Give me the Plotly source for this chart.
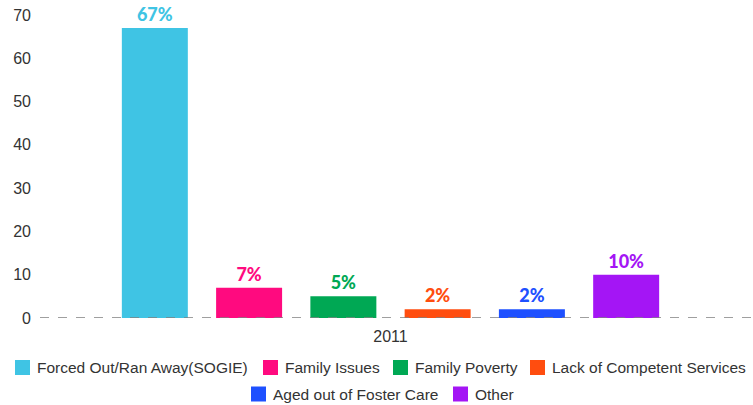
import plotly.graph_objects as go

years = ["2011"]
series = [
    "Forced Out/Ran Away(SOGIE)",
    "Family Issues",
    "Family Poverty",
    "Lack of Competent Services",
    "Aged out of Foster Care",
    "Other",
]
values = [67, 7, 5, 2, 2, 10]
colors = ["#3FC4E4", "#FF0A7F", "#00A854", "#FF4D0F", "#1E50FF", "#A415F5"]

W, H = 753, 405
ML, MR, MT, MB = 37, 9, 15, 87
PW, PH = W - ML - MR, H - MT - MB


def px_x(x):
    """pixel column -> paper x"""
    return (x - ML) / PW


def px_y(y):
    """pixel row -> paper y"""
    return (H - MB - y) / PH


fig = go.Figure()
for name, val, col in zip(series, values, colors):
    fig.add_trace(go.Bar(
        x=years, y=[val], name=name, showlegend=False,
        marker=dict(color=col, line=dict(width=0)),
        text=[f"{val}%"], textposition="outside", cliponaxis=False,
        textfont=dict(family="Lato", size=18, color=col, weight=900),
    ))

# dashed baseline at zero, running to the right edge
fig.add_shape(type="line", xref="paper", yref="y", x0=px_x(40), x1=px_x(753), y0=0, y1=0,
              line=dict(color="#808080", width=1.5, dash="dash"))

# two-row legend below the axis: (left edge of swatch, row centre) in pixels
legend_slots = [(15, 367.5), (263, 367.5), (393, 367.5), (530, 367.5),
                (251, 394), (453, 394)]
SW = 15
for name, col, (lx, cy) in zip(series, colors, legend_slots):
    fig.add_shape(type="rect", xref="paper", yref="paper",
                  x0=px_x(lx), x1=px_x(lx + SW), y0=px_y(cy + SW / 2), y1=px_y(cy - SW / 2),
                  fillcolor=col, line=dict(width=0))
    fig.add_annotation(xref="paper", yref="paper", x=px_x(lx + SW + 5), y=px_y(cy),
                       xanchor="left", yanchor="middle", showarrow=False, text=name,
                       font=dict(size=15.5, color="#333333"))

fig.update_layout(
    width=W, height=H,
    margin=dict(l=ML, r=MR, t=MT, b=MB, autoexpand=False),
    plot_bgcolor="white", paper_bgcolor="white",
    barmode="group", bargap=0.2, bargroupgap=0.3,
    font=dict(family="Liberation Sans, Arial, sans-serif", size=15, color="#333333"),
    xaxis=dict(showgrid=False, showline=False, ticks="", tickfont=dict(size=16),
               ticklabelstandoff=7),
    yaxis=dict(range=[0, 70], dtick=10, showgrid=False, zeroline=False,
               showline=False, ticks="", tickfont=dict(size=16), ticklabelstandoff=5),
)

fig.write_html("out.html")
